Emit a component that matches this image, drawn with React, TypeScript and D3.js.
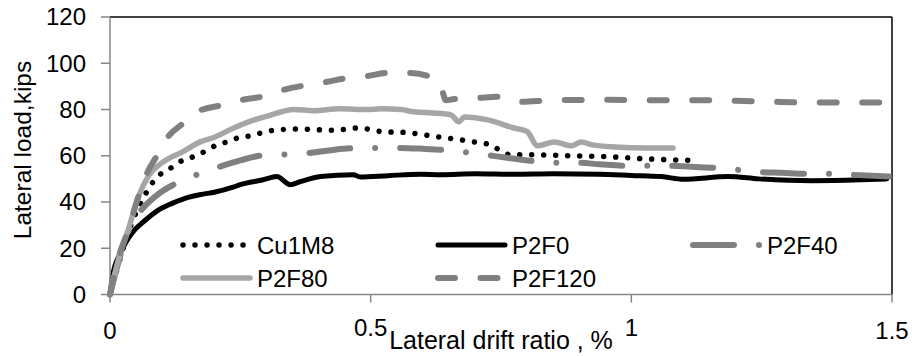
import React from "react";
import * as d3 from "d3";

// ---- data (drift ratio %, lateral load kips) ----
const xTicks = [0, 0.5, 1, 1.5];
const xTickLabels = ["0", "0.5", "1", "1.5"];
const yTicks = [0, 20, 40, 60, 80, 100, 120];
const yTickLabels = ["0", "20", "40", "60", "80", "100", "120"];

const seriesNames = ["Cu1M8", "P2F0", "P2F40", "P2F80", "P2F120"];

const cu1m8: [number, number][] = [
  [0, 0], [0.02, 16], [0.04, 30], [0.06, 40], [0.083, 48.8], [0.1, 52.6], [0.119, 55],
  [0.139, 58], [0.16, 59.6], [0.183, 62], [0.205, 64.7], [0.225, 66], [0.247, 67.8],
  [0.27, 68.6], [0.292, 70], [0.314, 71], [0.36, 71.6], [0.43, 71], [0.475, 72],
  [0.523, 70.4], [0.571, 70], [0.615, 68.6], [0.66, 67.3], [0.708, 65.6], [0.731, 64.7],
  [0.75, 62], [0.769, 60.4], [0.814, 60.4], [0.885, 60], [0.956, 59.6], [1.025, 58.7],
  [1.07, 58.3], [1.12, 58],
];

const p2f0: [number, number][] = [
  [0, 0], [0.005, 8], [0.019, 17.5], [0.029, 22], [0.042, 26.5], [0.067, 32], [0.092, 36.4],
  [0.119, 39.4], [0.144, 41.6], [0.176, 43.3], [0.2, 44.2], [0.236, 46.4], [0.25, 47.5],
  [0.294, 49.6], [0.32, 51], [0.346, 47.5], [0.365, 48.8], [0.404, 51], [0.467, 51.8],
  [0.48, 50.8], [0.533, 51.4], [0.596, 52], [0.635, 51.8], [0.7, 52.2], [0.775, 52],
  [0.85, 52.2], [0.937, 52], [1.0, 51.5], [1.058, 51], [1.1, 49.8], [1.186, 51],
  [1.244, 50], [1.346, 49.2], [1.44, 49.6], [1.49, 50],
];

const p2f40: [number, number][] = [
  [0, 0], [0.015, 13], [0.03, 24], [0.045, 32], [0.058, 36], [0.09, 43], [0.128, 48.2],
  [0.163, 51.5], [0.207, 55], [0.25, 58], [0.288, 60], [0.33, 60.5], [0.374, 61],
  [0.42, 62.3], [0.46, 63.2], [0.5, 63.3], [0.545, 63.4], [0.6, 63], [0.635, 62.6],
  [0.677, 61.7], [0.72, 60.4], [0.765, 59], [0.808, 57.8], [0.852, 57], [0.894, 57],
  [0.94, 56.3], [0.985, 55.7], [1.025, 55.7], [1.067, 55.7], [1.116, 55.2], [1.16, 54.8],
  [1.2, 54], [1.244, 53], [1.29, 52.6], [1.333, 52.2], [1.377, 52.2], [1.42, 51.8],
  [1.494, 51],
];

const p2f80: [number, number][] = [
  [0, 0], [0.016, 15], [0.035, 28], [0.054, 42], [0.073, 51], [0.1, 57], [0.139, 61.7],
  [0.173, 66], [0.2, 68], [0.237, 72], [0.27, 75], [0.3, 77], [0.353, 80], [0.39, 79.5],
  [0.44, 80.3], [0.494, 80], [0.52, 80.3], [0.558, 80], [0.583, 79], [0.62, 78.5],
  [0.654, 77.7], [0.669, 74.7], [0.68, 76.8], [0.725, 75.5], [0.775, 72], [0.8, 70.5],
  [0.82, 64.3], [0.852, 66], [0.885, 64.3], [0.904, 66], [0.925, 64.7], [0.968, 63.8],
  [1.03, 63.4], [1.08, 63.4],
];

const p2f120: [number, number][] = [
  [0, 0], [0.015, 15], [0.035, 28], [0.054, 42], [0.07, 52], [0.09, 60], [0.109, 67.5],
  [0.14, 74], [0.167, 79], [0.217, 82], [0.25, 84], [0.3, 86], [0.333, 88.5], [0.378, 90.6],
  [0.417, 92], [0.455, 93.6], [0.494, 94.5], [0.533, 95.8], [0.577, 95.8], [0.615, 94],
  [0.63, 92], [0.638, 87.6], [0.644, 84], [0.66, 84.5], [0.706, 85], [0.744, 85.5],
  [0.785, 83.3], [0.85, 84], [0.95, 84.2], [1.05, 84], [1.15, 84], [1.25, 83.5],
  [1.35, 83], [1.48, 83],
];

const FONT = "'Liberation Sans', Arial, sans-serif";

type Style = { color: string; width: number; dash?: string };
const styles: Style[] = [
  { color: "#000000", width: 5.5, dash: "0.01 12" },
  { color: "#000000", width: 5 },
  { color: "#808080", width: 6, dash: "41 25 0.01 25" },
  { color: "#a6a6a6", width: 5.5 },
  { color: "#808080", width: 6, dash: "17 25.5" },
];

export default function App() {
  const x = d3.scaleLinear().domain([0, 1.5]).range([110, 892]);
  const y = d3.scaleLinear().domain([0, 120]).range([294.5, 17]);
  const line = d3
    .line<[number, number]>()
    .x((d) => x(d[0]))
    .y((d) => y(d[1]))
    .curve(d3.curveMonotoneX);

  const data = [cu1m8, p2f0, p2f40, p2f80, p2f120];
  const axisColor = "#868686";

  // legend layout
  const legendCols = [180, 435, 690];
  const legendRows = [245, 278];
  const legendItems = seriesNames.map((name, i) => ({
    name,
    style: styles[i],
    lx: legendCols[i % 3],
    ly: legendRows[Math.floor(i / 3)],
  }));

  const xLabelBaseline = (i: number) => (i === 1 || i === 2 ? 336 : 339);

  return (
    <svg
      width={912}
      height={356}
      style={{ position: "absolute", left: 0, top: 0, background: "#fff" }}
      fontFamily={FONT}
    >
      <rect x={0} y={0} width={912} height={356} fill="#fff" />
      {/* frame top/right */}
      <line x1={x(0)} x2={x(1.5)} y1={y(120)} y2={y(120)} stroke="#000" strokeWidth={1.5} />
      <line x1={x(1.5)} x2={x(1.5)} y1={y(120)} y2={y(0)} stroke="#000" strokeWidth={1.5} />

      {/* series */}
      {data.map((d, i) => (
        <path
          key={seriesNames[i]}
          d={line(d) || ""}
          fill="none"
          stroke={styles[i].color}
          strokeWidth={styles[i].width}
          strokeDasharray={styles[i].dash}
          strokeLinecap="round"
          strokeLinejoin="round"
        />
      ))}

      {/* axes */}
      <line x1={x(0)} x2={x(0)} y1={y(120)} y2={y(0)} stroke={axisColor} strokeWidth={1.5} />
      <line x1={x(0)} x2={x(1.5)} y1={y(0)} y2={y(0)} stroke={axisColor} strokeWidth={1.5} />
      {yTicks.map((t, i) => (
        <g key={"y" + t}>
          <line x1={x(0) - 9} x2={x(0)} y1={y(t)} y2={y(t)} stroke={axisColor} strokeWidth={1.5} />
          <text x={86} y={y(t)} dy="0.35em" textAnchor="end" fontSize={24} fill="#000">
            {yTickLabels[i]}
          </text>
        </g>
      ))}
      {xTicks.map((t, i) => (
        <g key={"x" + t}>
          <line x1={x(t)} x2={x(t)} y1={y(0)} y2={y(0) + 8} stroke={axisColor} strokeWidth={1.5} />
          <text x={x(t)} y={xLabelBaseline(i)} textAnchor="middle" fontSize={24} fill="#000">
            {xTickLabels[i]}
          </text>
        </g>
      ))}

      {/* axis titles */}
      <text x={501} y={349} textAnchor="middle" fontSize={25} fill="#000">
        Lateral drift ratio , %
      </text>
      <text
        transform="translate(31,150) rotate(-90)"
        textAnchor="middle"
        fontSize={24.5}
        fill="#000"
      >
        Lateral load,kips
      </text>

      {/* legend */}
      {legendItems.map((it) => (
        <g key={"lg" + it.name}>
          <line
            x1={it.lx + 3}
            x2={it.lx + 70}
            y1={it.ly}
            y2={it.ly}
            stroke={it.style.color}
            strokeWidth={it.style.width}
            strokeDasharray={it.style.dash}
            strokeLinecap="round"
          />
          <text x={it.lx + 77} y={it.ly} dy="0.36em" fontSize={24} fill="#000">
            {it.name}
          </text>
        </g>
      ))}
    </svg>
  );
}
